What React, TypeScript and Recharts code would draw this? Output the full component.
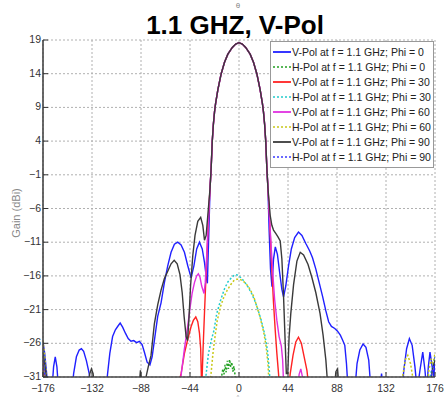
import React from "react";
import { LineChart, Line, XAxis, YAxis, CartesianGrid, Legend } from "recharts";

type Pt = [number, number];

const xTicks = [-176, -132, -88, -44, 0, 44, 88, 132, 176];
const yTicks = [-31, -26, -21, -16, -11, -6, -1, 4, 9, 14, 19];

// shared main lobe of the V-Pol cuts
const mainBeam: Pt[] = [
  [-26, -3], [-25, 0], [-24, 4], [-23, 6.5], [-22, 8.3], [-21, 9.6], [-19, 11.6],
  [-16, 14], [-13, 15.7], [-10, 16.9], [-6, 17.9], [-3, 18.4], [0, 18.6], [3, 18.4],
  [6, 17.9], [10, 16.9], [13, 15.7], [16, 14], [19, 11.6], [21, 9.6], [22, 8.3],
  [23, 6.5], [24, 4], [25, 0], [26, -3],
];

const vPol0Left: Pt[] = [
  [-176, -25.8], [-174.5, -27.5], [-173, -30], [-171.5, -33], [-168, -33], [-166.5, -29.5],
  [-165, -28], [-163.5, -29.5], [-162, -33], [-150, -33], [-148.5, -30.5], [-146, -28],
  [-143.5, -27], [-141.5, -26.8], [-139.5, -27.2], [-137, -28.6], [-134.5, -30.5], [-133, -33],
  [-119.5, -33], [-118, -30.5], [-116, -27.5], [-113.5, -25], [-111, -24], [-108.5, -23.4],
  [-106.7, -23], [-104.5, -23.6], [-102, -24.5], [-99.5, -25.3], [-97, -25.7], [-94.5, -25.6],
  [-92, -25.9], [-89.5, -25.7], [-87, -26.2], [-85, -27.3], [-82.5, -28.8], [-80, -29.2],
  [-78, -28], [-75.5, -25], [-73, -22], [-70, -20], [-67, -17], [-64, -14.5], [-61, -12.5],
  [-58, -11.3], [-55, -11], [-52, -11.4], [-49, -12.5], [-46, -14.5], [-43, -16.3],
  [-40.5, -14.5], [-38, -12], [-35.5, -11], [-33, -12], [-31, -14], [-29.5, -16],
  [-28.4, -17.1], [-27, -9],
];
const vPol0Right: Pt[] = [
  [27, -9], [28.3, -15], [29.6, -17.6], [31, -13.5], [32.6, -11.7], [34.5, -12.8], [36.5, -15.5],
  [38.5, -18], [40, -19.1], [42, -17.5], [44.5, -14.5], [47, -12], [50, -10.3], [53.4, -9.5],
  [56.5, -10], [60, -11.2], [63.5, -12.3], [66, -13.3], [69, -15], [72, -17], [75, -19],
  [78, -21.2], [80.5, -22.8], [83, -23.5], [86, -23.8], [88.5, -24.2], [91, -24.8], [93, -25.5],
  [95, -26.3], [96.5, -29], [98, -33], [104, -33], [106, -29], [108.5, -27], [111.4, -26.1],
  [114, -26.6], [116.5, -28.5], [118.5, -33], [126.5, -33], [128, -30.5], [129.5, -33],
  [146.5, -33], [148, -30], [150.5, -26.8], [153, -25.3], [155.5, -26.3], [158, -29.5],
  [160, -33], [162.5, -30], [165, -27.3], [167, -30], [168.5, -33], [170, -29.5],
  [171.5, -27.3], [173.5, -29.5], [175, -31], [176, -28],
];

const vPol30Left: Pt[] = [
  [-176, -28.5], [-175, -30], [-173.5, -33], [-56, -33], [-52, -30.5], [-49, -27.5],
  [-46, -25.4], [-43, -23.5], [-41, -22.6], [-38.8, -22.1], [-37, -22.8], [-35.5, -24.5],
  [-34.4, -26.8], [-33.5, -33], [-32.3, -27], [-31, -21.5], [-29.5, -15.5], [-28, -10], [-27, -6],
];
const vPol30Right: Pt[] = [
  [27, -6], [28, -9.5], [29.5, -15], [31, -20], [32.5, -24], [34, -27.5], [35.5, -30.5],
  [36.5, -33], [44.5, -33], [46, -30.5], [48.5, -27.8], [51, -25.8], [53.4, -25.1], [56, -26],
  [58.5, -28], [61, -30], [63, -33], [176, -33],
];

const vPol60Left: Pt[] = [
  [-176, -33], [-55, -33], [-52.2, -31], [-49, -26.8], [-46.2, -23.6], [-44, -20.8],
  [-42, -18.5], [-40, -17], [-38, -16], [-36.5, -15.7], [-35, -16.2], [-33.5, -17.5],
  [-31.4, -18.6], [-30.3, -17], [-29, -13], [-27.5, -7.5],
];
const vPol60Right: Pt[] = [
  [27.5, -7.5], [29, -12], [30.5, -16], [32, -19.5], [34, -22.6], [36, -25], [38, -26.4],
  [39.2, -28.5], [40.3, -33], [52.5, -33], [54, -30.6], [55.5, -29.8], [57, -31], [58, -33],
  [176, -33],
];

const vPol90Left: Pt[] = [
  [-176, -27.5], [-174.5, -29], [-173, -31], [-171.5, -33], [-136, -33], [-134, -30.5],
  [-132.5, -29.8], [-131, -30.5], [-129.5, -33], [-90, -33], [-88.5, -30], [-87, -33],
  [-85, -33], [-83.5, -31], [-81.5, -29.5], [-79, -27.8], [-76, -23.1], [-73, -20.3],
  [-70, -18.1], [-67, -16.4], [-64, -15.3], [-61, -14.2], [-58.2, -13.7], [-55.5, -14.2],
  [-53, -15.8], [-51, -18.5], [-49.3, -22], [-47.5, -25], [-46.2, -25.6], [-45, -22.5],
  [-43.5, -17.5], [-41.5, -13], [-39.5, -10], [-37, -7.9], [-34.4, -7.3], [-32.5, -8.5],
  [-31, -10.7], [-29.5, -10], [-28, -7],
];
const vPol90Right: Pt[] = [
  [28, -7], [29.5, -8.5], [31, -9.2], [33, -9.7], [35, -10.2], [37, -10.8], [38.5, -13.5],
  [40, -19], [41.5, -26], [42.5, -30.5], [43.8, -30.5], [45, -25], [46.5, -21.6], [49, -17.3],
  [52, -13.8], [55, -12.5], [58, -12.9], [62, -14.3], [65.4, -16.2], [69, -18.5], [72.8, -21.6],
  [75.5, -24.8], [78, -28.5], [80, -33], [85.5, -33], [87, -30.2], [88.5, -29.8], [90, -33],
  [171.5, -33], [173.5, -30], [176, -28.5],
];

const hPol0: Pt[] = [
  [-176, -33], [-17, -33], [-15.5, -30.8], [-14.5, -29.8], [-13.5, -30.6], [-12.5, -29.2],
  [-11.5, -30.3], [-10.5, -28.6], [-9.5, -29.8], [-8.5, -28.4], [-7.5, -29.5], [-6.5, -28.8],
  [-5.5, -30.2], [-4.5, -29.4], [-3.5, -30.8], [-2.5, -33], [176, -33],
];

const hPol30: Pt[] = [
  [-176, -27.2], [-174.5, -29.3], [-173, -33], [-142.5, -33], [-141, -31], [-139.5, -33],
  [-31, -33], [-29.8, -31], [-27.5, -27.6], [-25, -25.6], [-22.5, -24.1], [-20, -21.6],
  [-16.5, -19.6], [-13, -17.9], [-10, -16.9], [-7.5, -16.4], [-5, -16.0], [-3, -15.8],
  [-1, -15.9], [2, -16.3], [5, -16.9], [8, -17.6], [11, -18.5], [14, -19.6], [17, -21],
  [20, -22.6], [23, -24.6], [25.5, -27], [27.2, -30], [28.3, -33], [153.5, -33], [155, -31],
  [156.5, -33], [170, -33], [172, -30.5], [174, -29.5], [176, -28],
];

const hPol60: Pt[] = [
  [-176, -25.6], [-174.5, -27.8], [-173, -30.5], [-171.5, -33], [-26.8, -33], [-25.4, -31],
  [-23.2, -27.2], [-21.2, -24.6], [-19.5, -22.6], [-16.5, -20.5], [-13.5, -19.1],
  [-10.5, -18.1], [-7.5, -17.3], [-4.6, -16.7], [-2, -16.5], [1, -16.5], [4, -16.8],
  [7, -17.3], [10, -18], [13, -19], [16, -20.5], [19, -22.2], [22, -24.2], [24.2, -26.3],
  [26, -29], [27.3, -33], [145, -33], [147, -30.8], [149.5, -28.4], [151.6, -27.8],
  [154, -29], [156, -31], [157.5, -33], [168.5, -33], [170.5, -30], [172.5, -28.3],
  [174, -29.2], [176, -27.5],
];

const hPol90: Pt[] = [
  [-176, -28], [-174.5, -30.3], [-173, -33], [171, -33], [173, -30.5], [174.5, -29.4], [176, -29],
];

const toRows = (pts: Pt[]) => pts.map(([theta, gain]) => ({ theta, gain }));

const series = [
  { name: "V-Pol at f = 1.1 GHz; Phi = 0", color: "#2020ff", dotted: false, pts: [...vPol0Left, ...mainBeam, ...vPol0Right] },
  { name: "H-Pol at f = 1.1 GHz; Phi = 0", color: "#22a022", dotted: true, pts: hPol0 },
  { name: "V-Pol at f = 1.1 GHz; Phi = 30", color: "#ff2222", dotted: false, pts: [...vPol30Left, ...mainBeam, ...vPol30Right] },
  { name: "H-Pol at f = 1.1 GHz; Phi = 30", color: "#22cccc", dotted: true, pts: hPol30 },
  { name: "V-Pol at f = 1.1 GHz; Phi = 60", color: "#e030e0", dotted: false, pts: [...vPol60Left, ...mainBeam, ...vPol60Right] },
  { name: "H-Pol at f = 1.1 GHz; Phi = 60", color: "#c8c818", dotted: true, pts: hPol60 },
  { name: "V-Pol at f = 1.1 GHz; Phi = 90", color: "#3a3a3a", dotted: false, pts: [...vPol90Left, ...mainBeam, ...vPol90Right] },
  { name: "H-Pol at f = 1.1 GHz; Phi = 90", color: "#3a3aff", dotted: true, pts: hPol90 },
];

const FONT = "'Liberation Sans', Arial, sans-serif";
const fmt = (v: number) => (v < 0 ? "\u2212" + Math.abs(v) : String(v));

function BottomTick(props: any) {
  const { x, y, payload } = props;
  return (
    <g>
      <line x1={x} x2={x} y1={y} y2={y - 5} stroke="#333" />
      <text x={x} y={y + 14.8} textAnchor="middle" fontSize={10.5} fill="#333" fontFamily={FONT}>
        {fmt(payload.value)}
      </text>
    </g>
  );
}

function TopTick(props: any) {
  const { x, y } = props;
  return <line x1={x} x2={x} y1={y} y2={y + 5} stroke="#333" />;
}

function LeftTick(props: any) {
  const { x, y, payload } = props;
  return (
    <g>
      <line x1={x} x2={x + 5} y1={y} y2={y} stroke="#333" />
      <text x={x - 2} y={y + 3} textAnchor="end" fontSize={10.5} fill="#333" fontFamily={FONT}>
        {fmt(payload.value)}
      </text>
    </g>
  );
}

function RightTick(props: any) {
  const { x, y } = props;
  return <line x1={x} x2={x - 5} y1={y} y2={y} stroke="#333" />;
}

function LegendBox() {
  return (
    <div
      style={{
        border: "1px solid #999",
        background: "#fff",
        padding: "2px 0 3px 2px",
        fontFamily: FONT,
        fontSize: 10.5,
        color: "#222",
      }}
    >
      {series.map((s) => (
        <div key={s.name} style={{ display: "flex", alignItems: "center", height: 15 }}>
          <svg width={18} height={6} style={{ marginRight: 1 }}>
            <line
              x1={0}
              x2={18}
              y1={3}
              y2={3}
              stroke={s.color}
              strokeWidth={s.dotted ? 1.6 : 1.8}
              strokeDasharray={s.dotted ? "2 2" : undefined}
            />
          </svg>
          <span style={{ whiteSpace: "nowrap" }}>{s.name}</span>
        </div>
      ))}
    </div>
  );
}

export default function App() {
  return (
    <div style={{ position: "absolute", left: 0, top: 0, width: 444, height: 399, background: "#fff" }}>
      <LineChart width={444} height={399} margin={{ top: 40, right: 9, bottom: 2, left: 0 }}>
        <CartesianGrid stroke="#b0b0b0" strokeDasharray="2 2" />
        <XAxis
          dataKey="theta"
          type="number"
          domain={[-176, 176]}
          ticks={xTicks}
          allowDataOverflow
          height={20}
          tickSize={0}
          tickMargin={0}
          tickLine={false}
          axisLine={{ stroke: "#444", strokeWidth: 1.6 }}
          tick={<BottomTick />}
          interval={0}
        />
        <XAxis
          xAxisId="top"
          orientation="top"
          type="number"
          domain={[-176, 176]}
          ticks={xTicks}
          height={0}
          tickSize={0}
          tickMargin={0}
          tickLine={false}
          axisLine={{ stroke: "#555", strokeWidth: 1.4 }}
          tick={<TopTick />}
          interval={0}
        />
        <YAxis
          type="number"
          domain={[-31, 19]}
          ticks={yTicks}
          allowDataOverflow
          width={43}
          tickSize={0}
          tickMargin={0}
          tickLine={false}
          axisLine={{ stroke: "#444", strokeWidth: 1.6 }}
          tick={<LeftTick />}
          interval={0}
        />
        <YAxis
          yAxisId="right"
          orientation="right"
          type="number"
          domain={[-31, 19]}
          ticks={yTicks}
          width={0}
          tickSize={0}
          tickMargin={0}
          tickLine={false}
          axisLine={{ stroke: "#555", strokeWidth: 1.4 }}
          tick={<RightTick />}
          interval={0}
        />
        {series.map((s) => (
          <Line
            key={s.name}
            name={s.name}
            data={toRows(s.pts)}
            dataKey="gain"
            type="linear"
            stroke={s.color}
            strokeWidth={s.dotted ? 1.5 : 1.4}
            strokeDasharray={s.dotted ? "2 2" : undefined}
            dot={false}
            activeDot={false}
            isAnimationActive={false}
          />
        ))}
        <Legend
          layout="vertical"
          align="center"
          verticalAlign="middle"
          content={() => <LegendBox />}
          wrapperStyle={{ left: 270, top: 41, width: 164, height: "auto" }}
        />
      </LineChart>
      <svg
        width={444}
        height={399}
        style={{ position: "absolute", left: 0, top: 0, pointerEvents: "none" }}
      >
        <text x={238} y={8} textAnchor="middle" fontSize={8} fill="#888" fontFamily={FONT}>
          θ
        </text>
        <text x={235} y={34} textAnchor="middle" fontSize={26} fontWeight="bold" fill="#000" fontFamily={FONT}>
          1.1 GHZ, V-Pol
        </text>
        <text
          x={20}
          y={213}
          transform="rotate(-90 20 213)"
          textAnchor="middle"
          fontSize={11}
          fill="#888"
          fontFamily={FONT}
        >
          Gain (dBi)
        </text>
        <text x={238} y={398.6} textAnchor="middle" fontSize={5} fill="#999" fontFamily={FONT}>
          ^
        </text>
      </svg>
    </div>
  );
}
